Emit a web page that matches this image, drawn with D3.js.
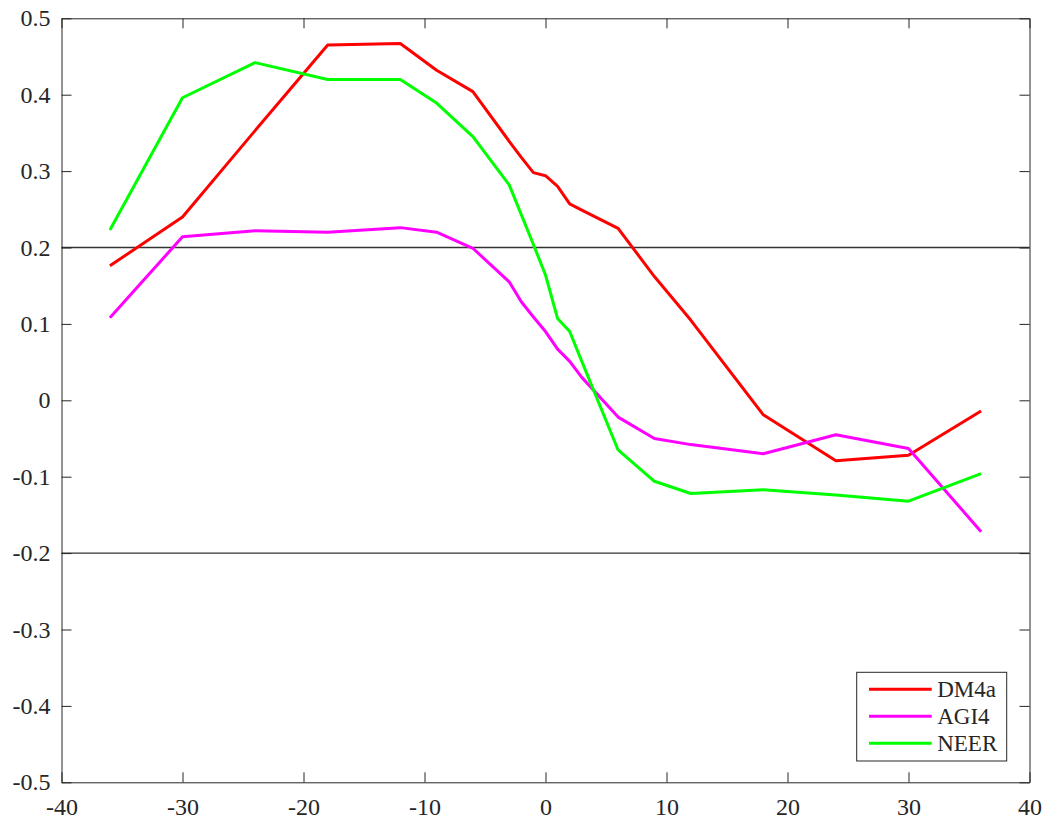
<!DOCTYPE html>
<html>
<head>
<meta charset="utf-8">
<script src="https://cdn.jsdelivr.net/npm/d3@7"></script>
<style>
  html, body { margin: 0; padding: 0; background: #fff; }
  svg { display: block; }
  svg text { font-family: "Liberation Serif", "Times New Roman", serif; }
</style>
</head>
<body>
<svg id="chart" width="1047" height="823"></svg>
<script>
// Horizon (months) relative to the event
const months = [-36, -30, -24, -18, -12, -9, -6, -3, -2, -1, 0, 1, 2, 3, 6, 9, 12, 18, 24, 30, 36];

// Correlation values per series
const dm4a = [0.176, 0.240, 0.353, 0.465, 0.467, 0.432, 0.404, 0.339, 0.318, 0.298, 0.294, 0.280, 0.257, 0.249, 0.225, 0.162, 0.105, -0.019, -0.079, -0.072, -0.014];
const agi4 = [0.108, 0.214, 0.222, 0.220, 0.226, 0.220, 0.199, 0.155, 0.129, 0.109, 0.090, 0.067, 0.051, 0.030, -0.022, -0.050, -0.058, -0.070, -0.045, -0.063, -0.172];
const neer = [0.223, 0.396, 0.442, 0.420, 0.420, 0.389, 0.345, 0.282, 0.243, 0.204, 0.164, 0.107, 0.090, 0.051, -0.065, -0.106, -0.122, -0.117, -0.124, -0.132, -0.096];

const seriesNames = ["DM4a", "AGI4", "NEER"];
const seriesColors = ["#ff0000", "#ff00ff", "#00ff00"];
const seriesValues = [dm4a, agi4, neer];

// Axis ticks and reference levels
const xTicks = [-40, -30, -20, -10, 0, 10, 20, 30, 40];
const yTicks = [-0.5, -0.4, -0.3, -0.2, -0.1, 0, 0.1, 0.2, 0.3, 0.4, 0.5];
const refLevels = [0.2, -0.2];

const svg = d3.select("#chart");
const plotLeft = 61.5, plotRight = 1029.5, plotTop = 18.3, plotBottom = 782.3;

const x = d3.scaleLinear().domain([-40, 40]).range([plotLeft, plotRight]);
const y = d3.scaleLinear().domain([-0.5, 0.5]).range([plotBottom, plotTop]);

const axisColor = "#262626";
const font = "Liberation Serif, Times New Roman, serif";
const fontSize = 24;

// Reference lines
svg.append("g").selectAll("line").data(refLevels).join("line")
  .attr("x1", plotLeft).attr("x2", plotRight)
  .attr("y1", d => y(d)).attr("y2", d => y(d))
  .attr("stroke", "#333").attr("stroke-width", 1.4);

// Series lines
const line = d3.line().x((d, i) => x(months[i])).y(d => y(d));
svg.append("g").selectAll("path").data(seriesValues).join("path")
  .attr("d", d => line(d))
  .attr("fill", "none")
  .attr("stroke", (d, i) => seriesColors[i])
  .attr("stroke-width", 3)
  .attr("stroke-linejoin", "round");

// Axes (box with inward ticks on all four sides)
function styleAxis(g) {
  g.attr("font-family", font).attr("font-size", fontSize);
  g.selectAll(".domain").attr("stroke", axisColor).attr("stroke-width", 1);
  g.selectAll(".tick line").attr("stroke", axisColor).attr("stroke-width", 1);
  g.selectAll(".tick text").attr("fill", axisColor);
}
// hyphen-minus labels, as in a plain numeric readout
const fmtX = d => String(d);
const fmtY = d => (Math.abs(d) < 1e-9 ? "0" : d.toFixed(1));

svg.append("g").attr("transform", `translate(0,${plotBottom})`)
  .call(d3.axisBottom(x).tickValues(xTicks).tickSizeInner(-10).tickSizeOuter(0).tickPadding(16).tickFormat(fmtX))
  .call(styleAxis);
svg.append("g").attr("transform", `translate(${plotLeft},0)`)
  .call(d3.axisLeft(y).tickValues(yTicks).tickSizeInner(-10).tickSizeOuter(0).tickPadding(11).tickFormat(fmtY))
  .call(styleAxis);
svg.append("g").attr("transform", `translate(0,${plotTop})`)
  .call(d3.axisTop(x).tickValues(xTicks).tickSizeInner(-10).tickSizeOuter(0).tickFormat(""))
  .call(styleAxis);
svg.append("g").attr("transform", `translate(${plotRight},0)`)
  .call(d3.axisRight(y).tickValues(yTicks).tickSizeInner(-10).tickSizeOuter(0).tickFormat(""))
  .call(styleAxis);

// Legend
const lg = svg.append("g").attr("transform", "translate(856.7,672.3)");
lg.append("rect").attr("width", 150).attr("height", 88.7)
  .attr("fill", "#fff").attr("stroke", axisColor).attr("stroke-width", 1);
const rows = lg.selectAll("g.row").data(seriesNames).join("g")
  .attr("class", "row")
  .attr("transform", (d, i) => `translate(0,${17 + i * 27})`);
rows.append("line").attr("x1", 12.3).attr("x2", 75)
  .attr("stroke", (d, i) => seriesColors[i]).attr("stroke-width", 3);
rows.append("text").attr("x", 80.5).attr("dy", "0.35em")
  .text(d => d)
  .attr("fill", axisColor)
  .attr("font-family", font).attr("font-size", 23);
</script>
</body>
</html>
